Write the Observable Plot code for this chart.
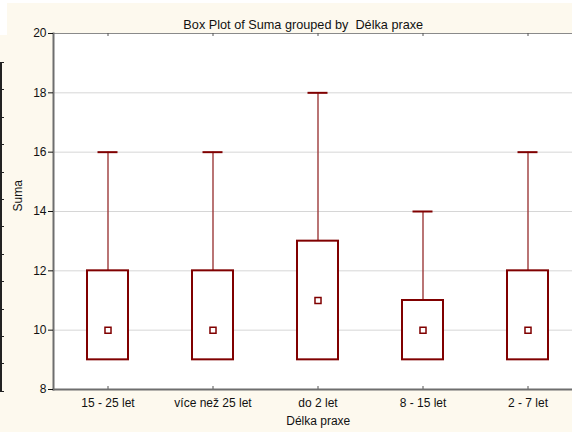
<!DOCTYPE html>
<html>
<head>
<meta charset="utf-8">
<script src="https://cdn.jsdelivr.net/npm/d3@7"></script>
<script src="https://cdn.jsdelivr.net/npm/@observablehq/plot@0.6"></script>
<style>
  html, body { margin: 0; padding: 0; background: #fff; }
  #wrap { position: relative; width: 572px; height: 432px; overflow: hidden; background: #fff; }
  .cream1 { position: absolute; left: 7px; top: 3px; right: 0; bottom: 0; background: #fdf9ee; }
  .cream2 { position: absolute; left: 0; top: 35px; right: 0; bottom: 0; background: #fdf9ee; }
  .edge { position: absolute; left: 0; top: 62px; width: 2px; height: 330px; background: #222; }
  .edgeticks { position: absolute; left: 2px; top: 62px; width: 2px; height: 331px;
    background: repeating-linear-gradient(to bottom, #222 0, #222 1px, transparent 1px, transparent 27.4px); }
  #chart { position: absolute; left: 0; top: 0; width: 600px; }
  #chart svg { max-width: none !important; width: 600px !important; height: 432px !important; }
</style>
</head>
<body>
<div id="wrap">
  <div class="cream1"></div>
  <div class="cream2"></div>
  <div class="edge"></div>
  <div class="edgeticks"></div>
  <div id="chart"></div>
</div>
<script>
const title = "Box Plot of Suma grouped by  Délka praxe";
const xLabel = "Délka praxe";
const yLabel = "Suma";
const categories = ["15 - 25 let", "více než 25 let", "do 2 let", "8 - 15 let", "2 - 7 let"];
const medians = [10, 10, 11, 10, 10];
const q1 = [9, 9, 9, 9, 9];
const q3 = [12, 12, 13, 11, 12];
const lows = [9, 9, 9, 9, 9];
const highs = [16, 16, 18, 14, 16];
const yTicks = [8, 10, 12, 14, 16, 18, 20];

const rows = categories.map((c, i) => ({cat: c, q1: q1[i], q3: q3[i], med: medians[i], lo: lows[i], hi: highs[i]}));

const boxColor = "#800000";
const axisColor = "#6e6e6e";

const chart = Plot.plot({
  width: 600,
  height: 432,
  marginLeft: 53,
  marginRight: 17.5,
  marginTop: 33,
  marginBottom: 43,
  style: {background: "transparent", fontFamily: "'Liberation Sans', Arial, sans-serif", fontSize: "12px", color: "#111", maxWidth: "none"},
  x: {type: "band", domain: categories, padding: 0, label: null},
  y: {domain: [8, 20], label: null},
  marks: [
    Plot.frame({fill: "white", stroke: null}),
    Plot.gridY(yTicks.slice(1, -1), {stroke: "#d6d6d6", strokeOpacity: 1, strokeWidth: 1}),
    Plot.frame({anchor: "top", stroke: "#8a8a8a", strokeWidth: 1}),
    Plot.ruleX(categories, {x: d => d, insetBottom: 353, stroke: "#555"}),
    Plot.ruleX(categories, {x: d => d, insetTop: 353, stroke: "#555"}),
    Plot.ruleX(rows, {x: "cat", y1: "q3", y2: "hi", stroke: "#9c3a3a", strokeWidth: 1.4}),
    Plot.ruleX(rows, {x: "cat", y1: "lo", y2: "q1", stroke: "#9c3a3a", strokeWidth: 1.4}),
    Plot.tickY(rows, {x: "cat", y: "hi", insetLeft: 42.5, insetRight: 42.5, stroke: boxColor, strokeWidth: 2}),
    Plot.barY(rows, {x: "cat", y1: "q1", y2: "q3", insetLeft: 32, insetRight: 32, fill: "white", stroke: boxColor, strokeWidth: 2}),
    Plot.dot(rows, {x: "cat", y: "med", symbol: "square", r: 3.4, stroke: boxColor, fill: "white", strokeWidth: 1.5}),
    Plot.frame({anchor: "left", stroke: axisColor, strokeWidth: 2}),
    Plot.frame({anchor: "bottom", stroke: axisColor, strokeWidth: 2}),
    Plot.axisY(yTicks, {tickSize: 5, tickPadding: 2, label: null}),
    Plot.axisX({tickSize: 0, tickPadding: 9, label: null}),
    Plot.text([yLabel], {text: d => d, frameAnchor: "left", dx: -35, rotate: -90}),
    Plot.text([xLabel], {text: d => d, frameAnchor: "bottom", dy: 35}),
    Plot.text([title], {text: d => d, frameAnchor: "top", dy: -14, dx: -15, fontSize: 12.7})
  ]
});
document.getElementById("chart").appendChild(chart);
</script>
</body>
</html>
